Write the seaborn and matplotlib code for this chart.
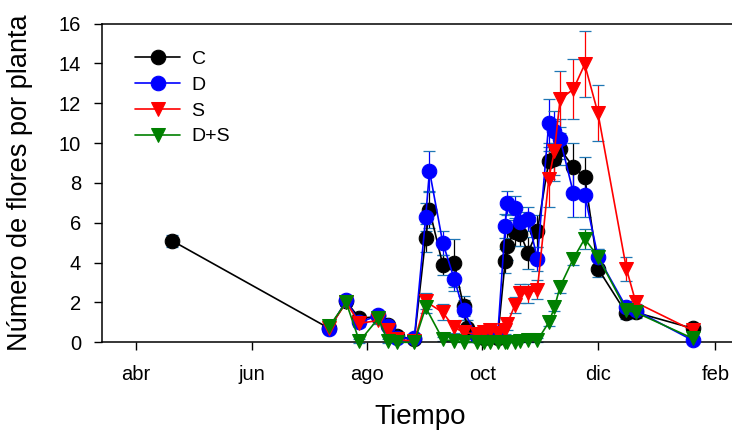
import numpy as np
import pandas as pd
import matplotlib
matplotlib.use('Agg')
import matplotlib.pyplot as plt
import seaborn as sns

nan = np.nan

# sampling dates (shared by all treatments)
dates = ["2013-04-20", "2013-07-12", "2013-07-21", "2013-07-28", "2013-08-07",
         "2013-08-12", "2013-08-17", "2013-08-26", "2013-09-01", "2013-09-03",
         "2013-09-10", "2013-09-16", "2013-09-21", "2013-09-23", "2013-09-28",
         "2013-10-02", "2013-10-05", "2013-10-09", "2013-10-13", "2013-10-14",
         "2013-10-18", "2013-10-21", "2013-10-25", "2013-10-30", "2013-11-05",
         "2013-11-08", "2013-11-11", "2013-11-18", "2013-11-24", "2013-12-01",
         "2013-12-16", "2013-12-21", "2014-01-20"]

# number of flowers per plant (mean) and error
C = [5.1, 0.7, 2.05, 1.2, 1.3, 0.85, 0.3, 0.15, 5.25, 6.65, 3.9, 4.0, 1.8, 0.7, 0.3,
     0.2, 0.3, 0.2, 4.1, 4.85, 5.55, 5.45, 4.5, 5.6, 9.1, 9.2, 9.7, 8.8, 8.3, 3.7,
     1.45, 1.5, 0.7]
D = [nan, 0.65, 2.1, 1.0, 1.35, 0.8, 0.2, 0.2, 6.3, 8.6, 5.0, 3.2, 1.6, nan, 0.3,
     0.3, 0.35, 0.3, 5.85, 7.0, 6.75, 6.05, 6.2, 4.2, 11.0, 10.6, 10.2, 7.5, 7.4, 4.3,
     1.75, 1.6, 0.1]
S = [nan, 0.7, 2.0, 0.95, 1.1, 0.6, 0.15, 0.05, 2.05, nan, 1.5, 0.75, 0.5, nan, 0.4,
     0.5, 0.6, 0.45, 0.6, 0.9, 1.85, 2.45, 2.45, 2.65, 8.2, 9.6, 12.2, 12.7, 13.95, 11.5,
     3.7, 2.0, 0.6]
DS = [nan, 0.8, 2.0, 0.05, 1.2, 0.05, 0.0, 0.0, 1.75, nan, 0.15, 0.05, 0.0, nan, 0.0,
      0.0, 0.0, 0.0, 0.0, 0.0, 0.0, 0.05, 0.1, 0.1, 1.0, 1.75, 2.8, 4.2, 5.2, 4.3,
      1.6, 1.5, 0.2]

C_err = [0.3, 0.1, 0.2, 0.2, 0.2, 0.2, 0.1, 0.1, 0.7, 0.9, 0.5, 1.2, 0.5, 0.4, 0.1,
         0.1, 0.1, 0.1, 0.6, 0.7, 0.7, 0.6, 0.8, 0.8, 0.9, 0.8, 0.8, 1.2, 1.0, 0.4,
         0.3, 0.3, 0.2]
D_err = [nan, 0.1, 0.2, 0.2, 0.2, 0.2, 0.1, 0.1, 0.7, 1.0, 0.6, 0.6, 0.5, nan, 0.1,
         0.1, 0.1, 0.1, 0.6, 0.6, 0.6, 0.5, 0.6, 0.6, 1.2, 1.0, 1.0, 1.2, 1.1, 0.4,
         0.3, 0.3, 0.1]
S_err = [nan, 0.1, 0.2, 0.2, 0.2, 0.2, 0.1, 0.1, 0.4, nan, 0.4, 0.3, 0.2, nan, 0.1,
         0.2, 0.2, 0.2, 0.2, 0.3, 0.4, 0.5, 0.5, 0.5, 1.4, 1.5, 1.4, 1.5, 1.65, 1.4,
         0.6, 0.3, 0.2]
DS_err = [nan, 0.1, 0.2, 0.1, 0.2, 0.1, 0.0, 0.0, 0.3, nan, 0.1, 0.0, 0.0, nan, 0.0,
          0.0, 0.0, 0.0, 0.0, 0.0, 0.0, 0.05, 0.1, 0.1, 0.2, 0.2, 0.3, 0.3, 0.5, 0.4,
          0.1, 0.1, 0.1]

treatments = ["C", "D", "S", "D+S"]
values = [C, D, S, DS]
errors = [C_err, D_err, S_err, DS_err]
colors = {"C": "black", "D": "#0000ff", "S": "#ff0000", "D+S": "#008000"}
markers = {"C": "o", "D": "o", "S": "v", "D+S": "v"}

tick_dates = ["2013-04-01", "2013-06-01", "2013-08-01", "2013-10-01", "2013-12-01", "2014-02-01"]
tick_labels = ["abr", "jun", "ago", "oct", "dic", "feb"]

# long table for seaborn
rows = []
for t, v, e in zip(treatments, values, errors):
    for d, val, err in zip(dates, v, e):
        rows.append({"Tiempo": pd.Timestamp(d), "flores": val, "err": err, "trat": t})
df = pd.DataFrame(rows).dropna()

sns.set_style("ticks", {"axes.edgecolor": "black", "text.color": "black",
                        "xtick.color": "black", "ytick.color": "black",
                        "axes.labelcolor": "black"})
plt.rcParams['font.family'] = ['Liberation Sans', 'DejaVu Sans']

fig = plt.figure(figsize=(7.32, 4.32), dpi=100)
ax = fig.add_axes([0.1393, 0.2076, 0.869, 0.738])

# error bars first, then lines and markers on top
for t in treatments:
    sub = df[df["trat"] == t]
    ax.errorbar(sub["Tiempo"], sub["flores"], yerr=sub["err"], fmt='none',
                ecolor=colors[t], elinewidth=0.9, capsize=4, capthick=0.9,
                clip_on=False, zorder=2)

sns.lineplot(data=df, x="Tiempo", y="flores", hue="trat", style="trat",
             hue_order=treatments, style_order=treatments,
             palette=colors, markers=markers, dashes=False, sort=True,
             estimator=None, linewidth=1.2, markersize=10.5,
             clip_on=False, ax=ax, zorder=3)

# marker edges in the line colour (seaborn uses white edges)
for ln in ax.lines:
    ln.set_markeredgecolor(ln.get_color())

ax.set_ylim(0, 16)
ax.set_yticks(range(0, 17, 2))
ax.set_xlim(pd.Timestamp("2013-03-14"), pd.Timestamp("2014-02-13"))
ax.set_xticks(pd.to_datetime(tick_dates))
ax.set_xticklabels(tick_labels)

for s in ax.spines.values():
    s.set_linewidth(1.1)
ax.tick_params(axis='both', direction='out', length=6, width=1.0,
               labelsize=14.5, pad=9)
ax.tick_params(axis='x', pad=10)

ax.set_xlabel("Tiempo", fontsize=20)
ax.set_ylabel("Número de flores por planta", fontsize=19.5)
ax.xaxis.set_label_coords(0.5, -0.194)
ax.yaxis.set_label_coords(-0.108, 0.5)

leg = ax.legend(loc='upper left', bbox_to_anchor=(0.04, 0.94), frameon=False,
                fontsize=14, handlelength=2.3, handletextpad=0.6,
                labelspacing=0.42, borderaxespad=0)
for h in leg.legend_handles:
    h.set_markeredgecolor(h.get_color())

fig.savefig("out.png", dpi=100)
